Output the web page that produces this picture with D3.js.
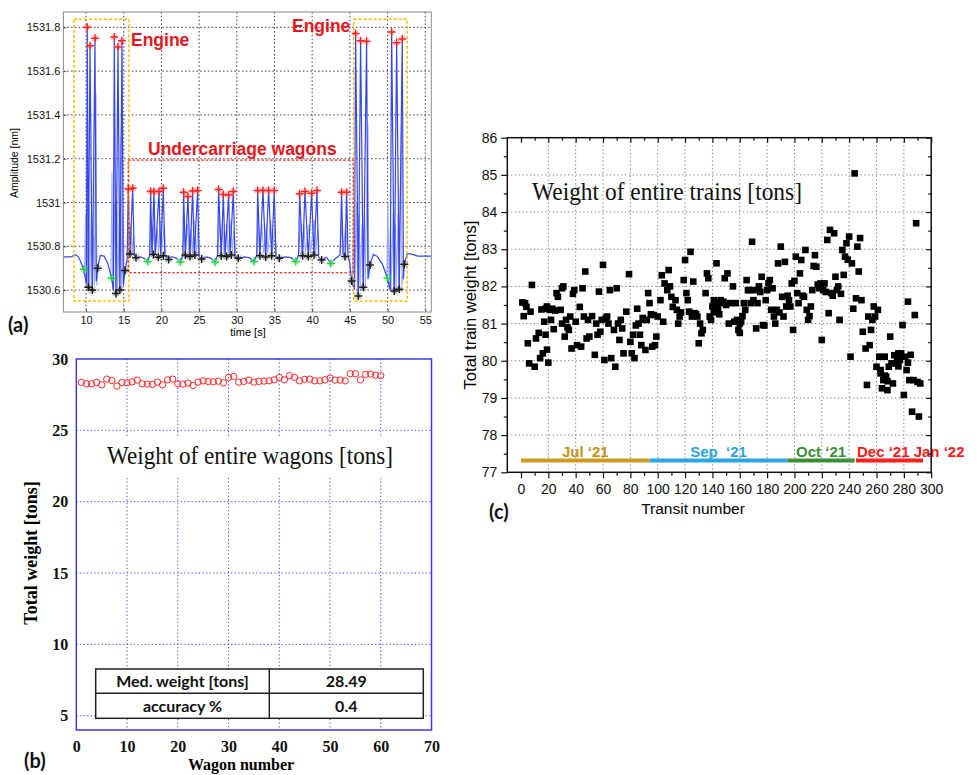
<!DOCTYPE html>
<html>
<head>
<meta charset="utf-8">
<script src="https://cdn.jsdelivr.net/npm/d3@7"></script>
<style>
  body { margin: 0; background: #fff; }
  svg { display: block; }
</style>
</head>
<body>
<svg id="fig" width="978" height="775"></svg>
<script>
// ================= (a) FBG wavelength trace during a train passage =================
// Trace vertices: time [s] and amplitude [nm]
const traceT = [7.0,8.0,8.6,9.0,9.4,9.69,10.05,10.17,10.31,10.53,10.84,11.19,11.35,11.54,11.9,12.4,12.9,13.4,13.62,13.75,13.98,14.24,14.5,14.77,14.95,15.17,15.45,15.61,15.83,16.19,16.4,16.63,17.2,17.7,18.18,18.45,18.57,18.75,19.01,19.2,19.68,19.9,20.25,20.45,20.96,21.5,22.0,22.51,22.85,22.95,23.17,23.52,23.79,24.14,24.35,24.81,25.0,25.34,26.0,26.6,27.11,27.45,27.59,27.94,28.21,28.45,28.92,29.1,29.54,29.75,30.2,31.0,31.7,32.28,32.65,32.77,33.07,33.47,33.83,34.22,34.62,34.97,35.2,35.64,36.4,37.2,37.81,38.2,38.33,38.73,39.04,39.48,39.92,40.24,40.63,40.85,41.25,41.9,42.47,43.0,43.7,43.9,44.1,44.35,44.57,44.75,45.0,45.23,45.6,45.76,46.12,46.42,46.78,47.22,47.4,47.66,48.1,48.6,49.3,49.98,50.35,50.54,50.89,51.2,51.55,51.95,52.1,52.22,52.6,53.1,54.0,55.8];
const traceV = [1530.752,1530.752,1530.762,1530.752,1530.72,1530.695,1530.63,1531.8,1530.613,1531.716,1530.6,1531.75,1530.64,1530.7,1530.758,1530.755,1530.72,1530.654,1530.6,1531.756,1530.585,1531.71,1530.6,1531.739,1530.62,1530.689,1530.74,1531.062,1530.765,1531.065,1530.76,1530.748,1530.752,1530.745,1530.731,1530.76,1531.05,1530.765,1531.05,1530.762,1531.05,1530.758,1531.065,1530.758,1530.748,1530.752,1530.745,1530.728,1530.76,1531.047,1530.762,1531.027,1530.755,1531.053,1530.76,1531.055,1530.752,1530.742,1530.752,1530.745,1530.728,1530.76,1531.059,1530.757,1531.037,1530.755,1531.034,1530.76,1531.05,1530.752,1530.745,1530.752,1530.748,1530.731,1530.76,1531.055,1530.757,1531.055,1530.751,1531.055,1530.757,1531.055,1530.752,1530.745,1530.752,1530.748,1530.731,1530.76,1531.04,1530.757,1531.05,1530.753,1531.042,1530.76,1531.055,1530.752,1530.737,1530.75,1530.722,1530.742,1530.76,1531.047,1530.765,1530.753,1531.047,1530.76,1530.72,1530.642,1530.6,1531.772,1530.573,1531.739,1530.613,1531.736,1530.65,1530.715,1530.762,1530.755,1530.72,1530.654,1530.6,1531.779,1530.596,1531.73,1530.604,1531.747,1530.65,1530.718,1530.765,1530.765,1530.755,1530.755];

// Faint oscillation traces under each axle spike (null = gap)
const ghostT = [9.8,9.95,10.02,10.1,10.25,10.4,10.47,10.7,10.78,11.0,11.1,11.32,11.45,11.6,null,
  13.3,13.45,13.55,13.8,13.9,14.1,14.2,14.4,14.45,14.62,14.7,14.9,15.05,null,
  15.5,15.55,15.7,15.95,16.1,16.3,16.45,null,
  18.45,18.62,18.8,18.95,19.15,19.45,19.6,19.85,20.0,20.4,20.55,null,
  22.85,23.0,23.2,23.45,23.65,23.95,24.1,24.4,24.6,24.9,25.0,null,
  27.5,27.7,27.9,28.1,28.3,28.7,28.85,29.25,29.4,29.65,29.8,null,
  32.65,32.85,33.0,33.35,33.55,33.95,34.1,34.5,34.7,35.05,35.2,null,
  38.2,38.45,38.6,38.9,39.1,39.6,39.75,40.3,40.45,40.75,40.9,null,
  43.75,43.95,44.1,44.45,44.65,null,
  45.35,45.5,45.62,45.9,46.0,46.25,46.35,46.6,46.7,46.95,47.05,47.4,47.5,47.7,null,
  49.9,50.05,50.2,50.4,50.45,50.75,50.8,51.05,51.1,51.4,51.45,51.85,51.9,52.15];
const ghostV = [1530.69,1530.95,1530.62,1531.1,1530.62,1531.0,1530.6,1530.95,1530.6,1530.85,1530.62,1531.5,1530.62,1530.72,null,
  1530.67,1531.14,1530.6,1531.0,1530.58,1530.95,1530.6,1530.9,1530.6,1531.3,1530.6,1530.95,1530.65,null,
  1530.76,1530.92,1530.77,1530.9,1530.77,1530.85,1530.76,null,
  1530.77,1530.93,1530.77,1530.9,1530.77,1530.88,1530.77,1530.92,1530.77,1530.9,1530.77,null,
  1530.77,1530.92,1530.77,1530.9,1530.77,1530.88,1530.77,1530.92,1530.77,1530.9,1530.76,null,
  1530.77,1530.93,1530.77,1530.9,1530.77,1530.9,1530.77,1530.92,1530.77,1530.88,1530.76,null,
  1530.77,1530.93,1530.77,1530.9,1530.77,1530.9,1530.77,1530.92,1530.77,1530.88,1530.76,null,
  1530.77,1530.92,1530.77,1530.9,1530.77,1530.9,1530.77,1530.92,1530.77,1530.88,1530.76,null,
  1530.77,1530.92,1530.77,1530.9,1530.77,null,
  1530.65,1530.98,1530.6,1531.0,1530.58,1530.95,1530.6,1530.9,1530.6,1530.95,1530.62,1531.36,1530.66,1530.72,null,
  1530.66,1531.0,1530.6,1530.92,1530.6,1530.95,1530.6,1530.9,1530.6,1530.95,1530.6,1531.35,1530.62,1530.7];

// Detected axle peaks (red), valleys (black) and wagon boundaries (green)
const peakT = [10.17,10.53,11.19,13.75,14.24,14.77,15.61,16.19,18.57,19.01,19.68,20.25,22.95,23.52,24.14,24.81,27.59,28.21,28.92,29.54,32.77,33.47,34.22,34.97,38.33,39.04,39.92,40.63,43.9,44.57,45.76,46.42,47.22,50.54,51.2,51.95];
const peakV = [1531.8,1531.716,1531.75,1531.756,1531.71,1531.739,1531.062,1531.065,1531.05,1531.05,1531.05,1531.065,1531.047,1531.027,1531.053,1531.055,1531.059,1531.037,1531.034,1531.05,1531.055,1531.055,1531.055,1531.055,1531.04,1531.05,1531.042,1531.055,1531.047,1531.047,1531.772,1531.739,1531.736,1531.779,1531.73,1531.747];
const valleyT = [10.31,10.84,11.54,13.98,14.5,15.17,15.83,16.63,18.93,19.59,20.25,20.96,23.17,23.79,24.45,25.34,27.94,28.65,29.27,30.2,33.07,33.83,34.62,35.64,38.73,39.48,40.24,41.25,44.35,45.23,46.12,46.78,47.66,50.89,51.55,52.22];
const valleyV = [1530.613,1530.6,1530.7,1530.585,1530.6,1530.689,1530.765,1530.748,1530.763,1530.75,1530.757,1530.74,1530.76,1530.753,1530.76,1530.742,1530.757,1530.753,1530.76,1530.745,1530.757,1530.751,1530.757,1530.745,1530.757,1530.753,1530.76,1530.737,1530.753,1530.642,1530.573,1530.613,1530.715,1530.596,1530.604,1530.718];
const boundT = [9.69,13.4,18.18,22.51,27.11,32.28,37.81,42.47,49.98];
const boundV = [1530.695,1530.654,1530.731,1530.728,1530.728,1530.731,1530.731,1530.722,1530.654];

const ampTicks = [1530.6,1530.8,1531.0,1531.2,1531.4,1531.6,1531.8];
const timeTicks = [10,15,20,25,30,35,40,45,50,55];
// Annotation boxes [t0, t1, v0, v1]
const engineBoxes = [[8.4,15.7,1530.55,1531.837],[45.5,52.6,1530.55,1531.837]];
const wagonBox = [15.6,45.45,1530.68,1531.194];

// ================= (b) weight of each wagon =================
const wagonNo = d3.range(1, 61);
const wagonWeight = [28.36,28.26,28.26,28.36,28.19,28.59,28.5,28.1,28.36,28.33,28.4,28.52,28.26,28.24,28.22,28.38,28.19,28.54,28.59,28.26,28.24,28.31,28.15,28.38,28.47,28.43,28.4,28.45,28.33,28.71,28.78,28.38,28.43,28.52,28.38,28.43,28.45,28.47,28.54,28.71,28.54,28.83,28.71,28.47,28.57,28.59,28.47,28.47,28.54,28.66,28.52,28.52,28.47,28.97,28.97,28.54,28.92,28.94,28.87,28.83];
const wagonXTicks = [0,10,20,30,40,50,60,70];
const wagonYTicks = [5,10,15,20,25,30];
const statLabels = ["Med. weight [tons]", "accuracy %"];
const statValues = ["28.49", "0.4"];

// ================= (c) weight of entire trains per transit =================
const transit = [1,3,4,2,7,5,6,8,10,11,13,14,16,15,17,18,19,19,20,21,22,24,23,26,27,29,30,31,30,32,33,35,36,37,38,39,40,41,43,44,45,47,46,48,49,50,52,54,55,57,58,59,60,61,63,64,65,66,68,69,70,71,72,74,75,77,79,80,81,82,83,85,86,87,88,90,91,92,93,94,96,97,98,99,100,102,103,104,105,107,108,109,110,113,114,115,116,119,120,121,122,123,124,125,126,127,129,130,131,132,133,135,136,137,138,140,141,142,143,144,146,147,148,149,151,152,153,155,157,158,159,160,162,164,165,166,168,169,170,171,172,174,176,177,179,180,181,182,183,185,186,187,188,190,191,192,193,194,196,197,198,199,201,202,203,204,205,207,208,209,210,212,213,215,216,219,220,221,222,224,225,226,227,229,230,231,232,233,235,236,237,238,240,241,242,243,244,245,246,247,248,249,250,252,253,254,255,256,257,258,259,260,261,262,263,264,265,266,267,268,269,270,271,272,274,275,276,277,279,280,281,282,283,284,285,286,287,288,289,290,291,292,
  141,144,145,160,161,263,266,268,273,276,278,283,18,25,34,56,62,73,84,89,95,111,117,128,139,150,156,163,167,173,175,178,184,189,195,200,206,211,214,217,218,223,228,234,239];
const trainWeight = [81.57,81.55,81.45,81.2,81.32,80.47,79.93,82.04,79.84,80.6,80.75,80.07,80.2,81.38,81.05,80.7,81.46,80.3,79.95,81.37,81.1,80.85,81.4,81.82,81.72,81.37,81.95,82.0,81.0,80.65,81.1,80.83,81.19,80.33,81.8,81.9,81.05,80.42,81.45,80.38,81.95,82.4,81.19,80.6,81.1,80.65,81.2,80.16,81.0,81.86,80.78,81.1,82.58,80.02,81.19,81.0,81.9,80.07,80.83,79.84,81.95,81.0,80.56,80.87,80.2,81.32,82.33,80.51,80.2,80.7,80.07,81.4,81.0,80.7,80.42,81.1,80.29,81.1,81.82,81.55,80.38,81.23,80.42,80.65,81.19,81.63,82.3,81.05,82.08,81.9,82.44,82.0,81.72,81.63,81.37,81.0,81.19,82.17,82.71,81.82,81.63,81.32,82.93,81.19,82.13,81.28,81.19,80.47,81.0,80.74,80.83,81.82,82.35,82.22,81.19,81.46,81.63,81.55,82.62,81.37,81.63,81.55,81.59,82.22,82.35,81.0,81.55,82.0,81.55,81.1,80.83,81.0,81.2,81.37,82.17,81.9,81.55,83.2,81.63,81.9,80.87,82.0,82.26,80.96,81.63,81.9,82.08,82.17,81.37,81.19,81.0,81.37,82.62,83.07,81.72,81.19,82.66,81.46,81.63,81.46,82.08,80.83,82.8,81.82,81.55,82.35,82.71,81.72,82.98,81.37,81.1,81.46,81.9,82.84,82.53,82.08,80.56,81.9,82.08,83.25,81.28,83.52,81.82,83.43,82.26,81.9,82.0,81.1,82.98,82.31,82.8,83.16,83.34,80.11,82.62,81.4,85.04,81.68,83.07,82.4,83.3,81.63,80.78,80.33,79.35,81.19,80.42,80.83,81.1,81.46,81.19,79.84,81.37,80.11,79.66,79.26,79.48,80.11,79.57,79.21,79.84,80.65,79.93,79.39,79.93,80.11,80.2,80.02,80.96,79.08,80.11,79.75,81.59,79.48,80.16,78.63,79.48,81.23,83.7,79.43,78.5,79.39,
  81.3,81.45,81.25,80.75,81.05,79.75,79.6,79.45,80.15,79.85,80.2,79.95,81.4,81.35,80.9,80.7,81.15,81.1,80.95,81.15,81.25,81.45,81.3,81.25,81.1,81.5,81.05,81.55,81.9,81.55,81.85,80.95,81.95,81.3,81.75,82.15,81.75,81.2,82.55,82.05,81.95,81.85,81.75,81.8,82.72];
const transitTicks = d3.range(0, 301, 20);
const transitMinor = d3.range(10, 301, 20);
const trainTicks = d3.range(77, 87, 1);
const trainMinor = d3.range(77.5, 86, 1);
// Measurement periods along the transit axis
const periods = [
  { name: "Jul \u201821", from: 0, to: 94, color: "#d09a1c", text: "#c8921a" },
  { name: "Sep\u00a0\u00a0\u201821", from: 94, to: 195, color: "#2ca6e0", text: "#2aa2dc" },
  { name: "Oct \u201821", from: 195, to: 244, color: "#3a8f36", text: "#3a8f36" },
  { name: "Dec \u201821 Jan \u201822", from: 245, to: 294, color: "#ff1f1f", text: "#ff1a1a" }
];
const periodLevel = 77.32;

// ---------------------------------------------------------------------------
const svg = d3.select("#fig");
const SANS = "'Liberation Sans', Arial, sans-serif";
const SERIF = "'Liberation Serif', 'Times New Roman', serif";
const PANEL = "Lato, 'Open Sans', sans-serif";

function styleAxis(g, font, size, weight, color) {
  g.select(".domain").remove();
  g.selectAll("text").attr("font-family", font).attr("font-size", size)
    .attr("font-weight", weight).attr("fill", color);
}

// ============================ panel (a) ============================
{
  const x = d3.scaleLinear().domain([7, 55.8]).range([63.4, 431.3]);
  const y = d3.scaleLinear().domain([1530.5, 1531.87]).range([312, 12]);
  const g = svg.append("g");

  // dotted grid
  g.append("g").selectAll("line").data(timeTicks).join("line")
    .attr("x1", d => x(d)).attr("x2", d => x(d)).attr("y1", y.range()[1]).attr("y2", y.range()[0])
    .attr("stroke", "#333").attr("stroke-width", 0.9).attr("stroke-dasharray", "1.6,2.2");
  g.append("g").selectAll("line").data(ampTicks).join("line")
    .attr("x1", x.range()[0]).attr("x2", x.range()[1]).attr("y1", d => y(d)).attr("y2", d => y(d))
    .attr("stroke", "#333").attr("stroke-width", 0.9).attr("stroke-dasharray", "1.6,2.2");

  const clipId = "clipA";
  svg.append("clipPath").attr("id", clipId).append("rect")
    .attr("x", x.range()[0]).attr("y", y.range()[1])
    .attr("width", x.range()[1] - x.range()[0]).attr("height", y.range()[0] - y.range()[1]);

  const plot = g.append("g").attr("clip-path", `url(#${clipId})`);

  const ghost = ghostT.map((t, i) => [t, ghostV[i]]);
  plot.append("path")
    .attr("d", d3.line().defined(d => d[0] !== null).x(d => x(d[0])).y(d => y(d[1]))(ghost))
    .attr("fill", "none").attr("stroke", "#9fabf4").attr("stroke-width", 1.1);

  const trace = traceT.map((t, i) => [t, traceV[i]]);
  plot.append("path")
    .attr("d", d3.line().x(d => x(d[0])).y(d => y(d[1]))(trace))
    .attr("fill", "none").attr("stroke", "#3446ec").attr("stroke-width", 1.2);

  // annotation boxes
  engineBoxes.forEach(b => {
    g.append("rect").attr("x", x(b[0])).attr("y", y(b[3]))
      .attr("width", x(b[1]) - x(b[0])).attr("height", y(b[2]) - y(b[3]))
      .attr("fill", "none").attr("stroke", "#ffb800").attr("stroke-width", 1.4)
      .attr("stroke-dasharray", "3,2");
  });
  g.append("rect").attr("x", x(wagonBox[0])).attr("y", y(wagonBox[3]))
    .attr("width", x(wagonBox[1]) - x(wagonBox[0])).attr("height", y(wagonBox[2]) - y(wagonBox[3]))
    .attr("fill", "none").attr("stroke", "#ff2a2a").attr("stroke-width", 1.3)
    .attr("stroke-dasharray", "2.5,1.8");

  // markers
  const star = "M-4,0H4M0,-4V4";
  const starX = "M-2.8,-2.8L2.8,2.8M-2.8,2.8L2.8,-2.8";
  function markers(ts, vs, color, halo) {
    const mg = g.append("g");
    const pts = ts.map((t, i) => [t, vs[i]]);
    mg.selectAll("path.h").data(pts).join("path").attr("class", "h")
      .attr("transform", d => `translate(${x(d[0])},${y(d[1])})`)
      .attr("d", starX).attr("stroke", halo).attr("stroke-width", 1);
    mg.selectAll("path.m").data(pts).join("path").attr("class", "m")
      .attr("transform", d => `translate(${x(d[0])},${y(d[1])})`)
      .attr("d", star).attr("stroke", color).attr("stroke-width", 1.5);
  }
  markers(valleyT, valleyV, "#1a1a1a", "#777");
  markers(boundT, boundV, "#1fd63c", "#7fe98f");
  markers(peakT, peakV, "#ff2020", "#ff9a9a");

  // frame
  g.append("rect").attr("x", x.range()[0]).attr("y", y.range()[1])
    .attr("width", x.range()[1] - x.range()[0]).attr("height", y.range()[0] - y.range()[1])
    .attr("fill", "none").attr("stroke", "#8a8a8a").attr("stroke-width", 1);

  const ax = g.append("g").attr("transform", `translate(0,${y.range()[0]})`)
    .call(d3.axisBottom(x).tickValues(timeTicks).tickSize(-3).tickPadding(4));
  styleAxis(ax, SANS, 11, "normal", "#111");
  ax.selectAll("line").attr("stroke", "#555");
  const ay = g.append("g").attr("transform", `translate(${x.range()[0]},0)`)
    .call(d3.axisLeft(y).tickValues(ampTicks).tickSize(-3).tickPadding(3)
      .tickFormat(d => String(+d.toFixed(1))));
  styleAxis(ay, SANS, 11, "normal", "#111");
  ay.selectAll("line").attr("stroke", "#555");

  g.append("text").attr("x", 248).attr("y", 336).attr("text-anchor", "middle")
    .attr("font-family", SANS).attr("font-size", 11).text("time [s]");
  g.append("text").attr("transform", "translate(18,163) rotate(-90)").attr("text-anchor", "middle")
    .attr("font-family", SANS).attr("font-size", 10.5).text("Amplitude [nm]");

  const red = "#e8141c";
  g.append("text").attr("x", 131).attr("y", 46).attr("font-family", SANS).attr("font-size", 17.5)
    .attr("font-weight", "bold").attr("fill", red).text("Engine");
  g.append("text").attr("x", 292).attr("y", 32).attr("font-family", SANS).attr("font-size", 17.5)
    .attr("font-weight", "bold").attr("fill", red).text("Engine");
  g.append("text").attr("x", 148).attr("y", 155).attr("font-family", SANS).attr("font-size", 17.5)
    .attr("font-weight", "bold").attr("fill", red).text("Undercarriage wagons");

  g.append("text").attr("x", 8).attr("y", 332).attr("font-family", PANEL).attr("font-size", 20)
    .attr("font-weight", "bold").attr("fill", "#111").text("(a)");
}

// ============================ panel (b) ============================
{
  const x = d3.scaleLinear().domain([0, 70]).range([76.3, 431.5]);
  const y = d3.scaleLinear().domain([4, 30]).range([730, 359]);
  const g = svg.append("g");
  const blue = "#3a3af5";

  g.append("g").selectAll("line").data(wagonXTicks.slice(1, -1)).join("line")
    .attr("x1", d => x(d)).attr("x2", d => x(d)).attr("y1", y.range()[1]).attr("y2", y.range()[0])
    .attr("stroke", "#4c4cf0").attr("stroke-width", 1).attr("stroke-dasharray", "1.3,2.3");
  g.append("g").selectAll("line").data(wagonYTicks.slice(0, -1)).join("line")
    .attr("x1", x.range()[0]).attr("x2", x.range()[1]).attr("y1", d => y(d)).attr("y2", d => y(d))
    .attr("stroke", "#4c4cf0").attr("stroke-width", 1).attr("stroke-dasharray", "1.3,2.3");

  // title sits on a white plate over the grid
  g.append("rect").attr("x", 100).attr("y", 436).attr("width", 302).attr("height", 42).attr("fill", "#fff");
  g.append("text").attr("x", 107).attr("y", 464).attr("font-family", SERIF).attr("font-size", 26)
    .attr("textLength", 286).attr("lengthAdjust", "spacingAndGlyphs").attr("fill", "#111")
    .text("Weight of entire wagons [tons]");

  g.append("g").selectAll("circle").data(wagonNo).join("circle")
    .attr("cx", d => x(d)).attr("cy", (d, i) => y(wagonWeight[i])).attr("r", 3.2)
    .attr("fill", "none").attr("stroke", "#ff2a2a").attr("stroke-width", 1);

  // summary table
  const tx0 = 95.7, tx1 = 269.3, tx2 = 423.3, ty0 = 669, ty1 = 693.3, ty2 = 718.3;
  const tg = g.append("g");
  tg.append("rect").attr("x", tx0).attr("y", ty0).attr("width", tx2 - tx0).attr("height", ty2 - ty0)
    .attr("fill", "#fff").attr("stroke", "#222").attr("stroke-width", 1.5);
  tg.append("line").attr("x1", tx1).attr("x2", tx1).attr("y1", ty0).attr("y2", ty2)
    .attr("stroke", "#222").attr("stroke-width", 1.5);
  tg.append("line").attr("x1", tx0).attr("x2", tx2).attr("y1", ty1).attr("y2", ty1)
    .attr("stroke", "#222").attr("stroke-width", 1.5);
  const rowsY = [(ty0 + ty1) / 2, (ty1 + ty2) / 2];
  statLabels.forEach((s, i) => {
    tg.append("text").attr("x", (tx0 + tx1) / 2).attr("y", rowsY[i] + 6).attr("text-anchor", "middle")
      .attr("font-family", PANEL).attr("font-size", 16).attr("font-weight", "bold").attr("fill", "#111").text(s);
    tg.append("text").attr("x", (tx1 + tx2) / 2).attr("y", rowsY[i] + 6).attr("text-anchor", "middle")
      .attr("font-family", PANEL).attr("font-size", 16).attr("font-weight", "bold").attr("fill", "#111").text(statValues[i]);
  });

  g.append("rect").attr("x", x.range()[0]).attr("y", y.range()[1])
    .attr("width", x.range()[1] - x.range()[0]).attr("height", y.range()[0] - y.range()[1])
    .attr("fill", "none").attr("stroke", blue).attr("stroke-width", 1.5);

  const ax = g.append("g").attr("transform", `translate(0,${y.range()[0]})`)
    .call(d3.axisBottom(x).tickValues(wagonXTicks).tickSize(0).tickPadding(11));
  styleAxis(ax, SERIF, 16, "bold", "#111");
  const ay = g.append("g").attr("transform", `translate(${x.range()[0]},0)`)
    .call(d3.axisLeft(y).tickValues(wagonYTicks).tickSize(0).tickPadding(8));
  styleAxis(ay, SERIF, 16, "bold", "#111");

  g.append("text").attr("x", 241).attr("y", 770).attr("text-anchor", "middle")
    .attr("font-family", SERIF).attr("font-size", 16).attr("font-weight", "bold").text("Wagon number");
  g.append("text").attr("transform", "translate(37,553) rotate(-90)").attr("text-anchor", "middle")
    .attr("font-family", SERIF).attr("font-size", 18).attr("font-weight", "bold").text("Total weight [tons]");
  g.append("text").attr("x", 24).attr("y", 768).attr("font-family", PANEL).attr("font-size", 20)
    .attr("font-weight", "bold").attr("fill", "#111").text("(b)");
}

// ============================ panel (c) ============================
{
  const x = d3.scaleLinear().domain([-10, 300]).range([507.3, 931.2]);
  const y = d3.scaleLinear().domain([77, 86]).range([472.3, 137.7]);
  const g = svg.append("g");

  g.append("g").selectAll("line").data(transitTicks.slice(1, -1)).join("line")
    .attr("x1", d => x(d)).attr("x2", d => x(d)).attr("y1", y.range()[1]).attr("y2", y.range()[0])
    .attr("stroke", "#666").attr("stroke-width", 0.9).attr("stroke-dasharray", "1.2,2.6");
  g.append("g").selectAll("line").data(trainTicks.slice(1, -1)).join("line")
    .attr("x1", x.range()[0]).attr("x2", x.range()[1]).attr("y1", d => y(d)).attr("y2", d => y(d))
    .attr("stroke", "#666").attr("stroke-width", 0.9).attr("stroke-dasharray", "1.2,2.6");

  // title
  g.append("text").attr("x", 532).attr("y", 200).attr("font-family", SERIF)
    .attr("font-size", 25).attr("textLength", 270).attr("lengthAdjust", "spacingAndGlyphs")
    .attr("fill", "#111").text("Weight of entire trains [tons]");

  const s = 6.6;
  g.append("g").selectAll("rect").data(transit).join("rect")
    .attr("x", d => x(d) - s / 2).attr("y", (d, i) => y(trainWeight[i]) - s / 2)
    .attr("width", s).attr("height", s).attr("fill", "#000");

  // measurement periods
  periods.forEach(p => {
    g.append("line").attr("x1", x(p.from)).attr("x2", x(p.to))
      .attr("y1", y(periodLevel)).attr("y2", y(periodLevel))
      .attr("stroke", p.color).attr("stroke-width", 4);
  });
  periods.forEach((p, i) => {
    const last = i === periods.length - 1;
    g.append("text")
      .attr("x", last ? x(p.from) + 1 : (x(p.from) + x(p.to)) / 2)
      .attr("y", y(periodLevel) - 3)
      .attr("text-anchor", last ? "start" : "middle")
      .attr("font-family", SANS).attr("font-size", 15).attr("font-weight", "bold")
      .attr("fill", p.text).text(p.name);
  });

  g.append("rect").attr("x", x.range()[0]).attr("y", y.range()[1])
    .attr("width", x.range()[1] - x.range()[0]).attr("height", y.range()[0] - y.range()[1])
    .attr("fill", "none").attr("stroke", "#111").attr("stroke-width", 1.5);

  const bottom = y.range()[0], top = y.range()[1], left = x.range()[0], right = x.range()[1];
  const ax = g.append("g").attr("transform", `translate(0,${bottom})`)
    .call(d3.axisBottom(x).tickValues(transitTicks).tickSize(6).tickPadding(6));
  styleAxis(ax, SANS, 14, "normal", "#111");
  const axm = g.append("g").attr("transform", `translate(0,${bottom})`)
    .call(d3.axisBottom(x).tickValues(transitMinor).tickSize(3.5).tickFormat(""));
  axm.select(".domain").remove();
  const axt = g.append("g").attr("transform", `translate(0,${top})`)
    .call(d3.axisBottom(x).tickValues(transitTicks).tickSize(5).tickFormat(""));
  axt.select(".domain").remove();
  const axtm = g.append("g").attr("transform", `translate(0,${top})`)
    .call(d3.axisBottom(x).tickValues(transitMinor).tickSize(3).tickFormat(""));
  axtm.select(".domain").remove();

  const ay = g.append("g").attr("transform", `translate(${left},0)`)
    .call(d3.axisLeft(y).tickValues(trainTicks).tickSize(6).tickPadding(4));
  styleAxis(ay, SANS, 14, "normal", "#111");
  const aym = g.append("g").attr("transform", `translate(${left},0)`)
    .call(d3.axisLeft(y).tickValues(trainMinor).tickSize(3.5).tickFormat(""));
  aym.select(".domain").remove();
  const ayr = g.append("g").attr("transform", `translate(${right},0)`)
    .call(d3.axisLeft(y).tickValues(trainTicks).tickSize(5).tickFormat(""));
  ayr.select(".domain").remove();
  const ayrm = g.append("g").attr("transform", `translate(${right},0)`)
    .call(d3.axisLeft(y).tickValues(trainMinor).tickSize(3).tickFormat(""));
  ayrm.select(".domain").remove();
  g.selectAll(".tick line").attr("stroke", "#111").attr("stroke-width", 1.2);

  g.append("text").attr("x", 693).attr("y", 514).attr("text-anchor", "middle")
    .attr("font-family", SANS).attr("font-size", 15.5).text("Transit number");
  g.append("text").attr("transform", "translate(476,305) rotate(-90)").attr("text-anchor", "middle")
    .attr("font-family", SANS).attr("font-size", 16.5).text("Total train weight [tons]");
  g.append("text").attr("x", 489).attr("y", 519).attr("font-family", PANEL).attr("font-size", 20)
    .attr("font-weight", "bold").attr("fill", "#111").text("(c)");
}
</script>
</body>
</html>
